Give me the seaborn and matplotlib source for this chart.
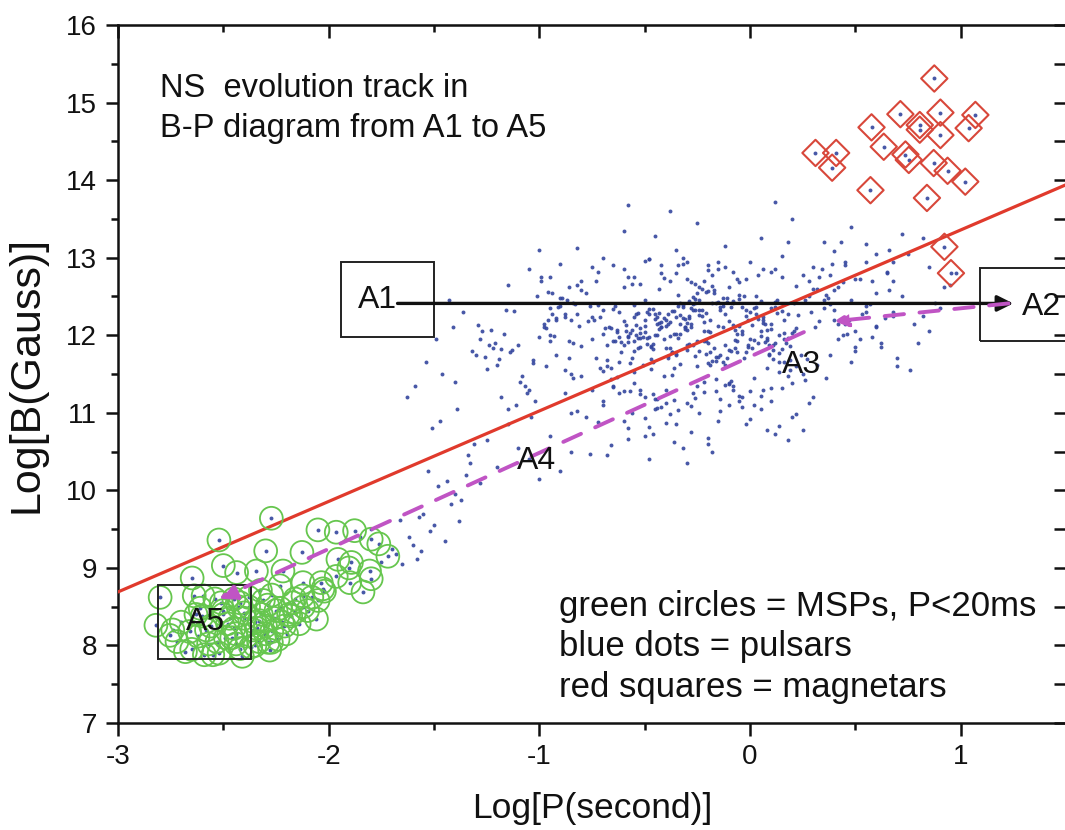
import numpy as np
import pandas as pd
import matplotlib
matplotlib.use('Agg')
import matplotlib.pyplot as plt
import seaborn as sns
from matplotlib.patches import Rectangle
from matplotlib.ticker import MultipleLocator

# ---------------- data ----------------
# magnetars (red diamonds)
mag_logP = [0.875, 0.714, 0.904, 1.07, 0.577, 0.806, 0.806, 1.038, 0.904, 0.635, 0.311,
            0.409, 0.738, 0.754, 0.39, 0.872, 0.938, 1.022, 0.572, 0.84, 0.923, 0.954]
mag_logB = [15.31, 14.85, 14.87, 14.84, 14.68, 14.71, 14.65, 14.67, 14.58, 14.43, 14.35,
            14.35, 14.33, 14.26, 14.16, 14.22, 14.12, 13.98, 13.87, 13.77, 13.14, 12.80]

# millisecond pulsars (green circles)
msp_logP = [-2.272, -2.521, -2.299, -2.50, -2.343, -2.648, -2.437, -2.80, -2.638, -2.596,
            -2.324, -2.232, -2.82, -2.754, -2.288, -2.051, -1.964, -1.877, -1.798, -1.762,
            -1.719, -2.127, -1.956, -1.892, -1.904, -2.217, -1.964, -1.90, -1.806, -1.798,
            -1.837, -2.122, -2.035, -2.027, -2.122, -2.161, -2.058, -2.272,
            -2.72, -2.65, -2.58, -2.52, -2.46, -2.4, -2.35, -2.3, -2.25, -2.2,
            -2.7, -2.62, -2.55, -2.48, -2.43, -2.37, -2.32, -2.27, -2.22, -2.17,
            -2.68, -2.6, -2.53, -2.45, -2.41, -2.34, -2.29, -2.24, -2.19, -2.14,
            -2.66, -2.57, -2.5, -2.44, -2.38, -2.33, -2.28, -2.23, -2.12, -2.08,
            -2.63, -2.56, -2.49, -2.42, -2.36, -2.31, -2.26, -2.21, -2.16, -2.1,
            -2.74, -2.59, -2.51, -2.47, -2.39, -2.33, -2.27, -2.18, -2.05, -2.02,
            -2.61, -2.54, -2.45, -2.4, -2.35, -2.3, -2.44, -2.38, -2.5, -2.42]
msp_logB = [9.64, 9.36, 9.22, 9.03, 8.96, 8.87, 8.94, 8.62, 8.64, 8.64,
            8.71, 8.77, 8.26, 8.13, 8.04, 9.49, 9.46, 9.48, 9.37, 9.31,
            9.15, 9.20, 9.11, 9.07, 9.00, 8.96, 8.89, 8.81, 8.96, 8.86,
            8.69, 8.81, 8.81, 8.73, 8.64, 8.43, 8.34, 8.04,
            8.05, 7.95, 8.2, 7.9, 8.1, 8.35, 8.0, 8.25, 8.45, 8.15,
            8.3, 8.12, 7.88, 8.28, 8.5, 7.98, 8.4, 8.18, 8.3, 8.55,
            7.92, 8.38, 8.05, 8.6, 7.86, 8.22, 8.52, 8.08, 8.4, 8.28,
            8.18, 8.02, 8.45, 8.15, 8.62, 8.32, 7.94, 8.48, 8.5, 8.62,
            8.4, 8.25, 8.1, 7.96, 8.2, 8.58, 8.35, 8.25, 8.6, 8.45,
            8.2, 7.88, 8.55, 8.35, 8.12, 8.05, 8.65, 8.38, 8.58, 8.7,
            8.48, 8.6, 8.22, 8.42, 8.3, 8.15, 8.02, 8.5, 8.4, 8.55]

# normal pulsars (blue dots)
psr_logP = [
    -0.52, -0.31, -0.12, 0.05, -0.64, -0.41, -0.22, 0.18, -0.05, -0.73,
    -0.28, -0.47, 0.11, -0.15, -0.58, -0.36, 0.24, -0.69, -0.09, -0.43,
    -0.19, 0.02, -0.55, -0.33, -0.77, 0.14, -0.26, -0.61, -0.02, -0.38,
    0.21, -0.49, -0.13, -0.71, -0.24, 0.08, -0.56, -0.35, -0.07, -0.66,
    -0.45, 0.27, -0.17, -0.6, -0.3, 0.12, -0.51, -0.04, -0.75, -0.21,
    -0.39, 0.06, -0.63, -0.27, -0.1, 0.19, -0.53, -0.34, -0.68, 0.01,
    -0.14, -0.46, 0.23, -0.57, -0.29, -0.8, 0.1, -0.37, -0.2, -0.5,
    0.16, -0.62, -0.06, -0.42, -0.25, -0.72, 0.04, -0.32, -0.54, -0.11,
    -0.67, 0.26, -0.4, -0.18, -0.59, 0.09, -0.23, -0.48, -0.01, -0.7,
    -0.33, 0.15, -0.08, -0.55, -0.44, 0.2, -0.16, -0.65, -0.27, 0.03,
    -0.35, -0.12, -0.48, 0.07, -0.26, -0.55, -0.04, -0.41, 0.15, -0.19,
    -0.3, -0.08, -0.52, 0.11, -0.23, -0.44, 0.03, -0.37, -0.15, -0.58,
    -0.27, 0.18, -0.46, -0.1, -0.33, -0.01, -0.5, -0.21, 0.09, -0.39,
    -0.06, -0.29, -0.56, 0.13, -0.17, -0.42, -0.03, -0.34, 0.05, -0.24,
    -0.49, -0.13, 0.16, -0.38, -0.2, -0.53, 0.0, -0.31, -0.09, -0.45,
    0.1, -0.25, -0.59, -0.14, -0.36, 0.06, -0.47, -0.18, -0.28, 0.19,
    -0.4, -0.07, -0.54, -0.22, 0.02, -0.32, -0.16, -0.43, 0.12, -0.26,
    -0.11, -0.51, -0.02, -0.35, 0.08, -0.19, -0.46, -0.05, -0.3, 0.14,
    -0.43, -0.21, -0.02, -0.62, -0.34, 0.09, -0.5, -0.13, -0.27, -0.7,
    0.17, -0.39, -0.08, -0.56, -0.24, 0.04, -0.46, -0.17, -0.65, -0.31,
    -0.04, -0.52, -0.2, 0.13, -0.37, -0.6, -0.11, -0.29, 0.21, -0.48,
    -0.15, -0.66, -0.33, 0.0, -0.44, -0.23, 0.11, -0.57, -0.09, -0.36,
    -0.71, -0.26, 0.07, -0.49, -0.18, -0.4, 0.16, -0.03, -0.53, -0.3,
    -0.12, -0.61, -0.38, 0.05, -0.22, -0.47, -0.06, -0.32, 0.19, -0.55,
    -0.25, 0.01, -0.42, -0.14, -0.68, -0.35, 0.1, -0.19, -0.5, -0.07,
    -0.58, -0.28, 0.14, -0.41, -0.1, -0.63, -0.2, 0.03, -0.45, -0.33,
    -0.16, -0.54, 0.08, -0.24, -0.74, -0.37, -0.05, -0.47, 0.22, -0.29,
    -0.64, -0.13, -0.39, 0.06, -0.52, -0.21, -0.01, -0.43, -0.31, 0.12,
    -0.88, -0.58, -0.27, 0.12, 0.45, -0.75, -0.42, -0.05, 0.3, 0.62,
    -0.95, -0.65, -0.35, 0.02, 0.38, -0.82, -0.5, -0.15, 0.22, 0.55,
    -0.7, -0.38, -0.08, 0.28, -0.92, -0.6, -0.22, 0.15, 0.5, -0.78,
    -0.45, -0.12, 0.25, 0.58, -0.85, -0.52, -0.18, 0.08, 0.42, -0.68,
    -0.32, 0.05, 0.35, -0.98, -0.62, -0.28, 0.18, 0.48, -0.72, -0.4,
    -0.02, 0.32, 0.66, -0.8, -0.48, -0.1, 0.22, -0.9, -0.55, -0.2,
    0.1, 0.4, -0.76, -0.44, -0.06, 0.26, 0.6, -0.86, -0.34, 0.0,
    0.36, -0.66, -0.3, 0.14, 0.52, -0.94, -0.57, -0.24, 0.2, -0.73,
    -0.41, -0.04, 0.33, 0.68, -0.84, -0.5, -0.16, 0.06, 0.44, -0.63,
    -0.26, 0.16, -0.96, -0.6, -0.36, 0.04, 0.29, -0.7, -0.46, -0.14,
    -0.95, -1.12, -0.84, -1.27, -1.03, -0.89, -1.18, -0.98, -1.22, -0.86,
    -1.07, -0.92, -1.3, -1.0, -0.83, -1.15, -0.97, -1.25, -0.88, -1.1,
    -0.94, -1.2, -0.81, -1.05, -1.28, -0.91, -1.14, -0.99, -0.85, -1.17,
    -1.02, -0.87, -1.24, -0.96, -1.09, -0.82, -1.19, -0.93, -1.29, -1.04,
    -0.9, -1.13, -0.8, -1.06, -1.23, -0.97, -1.16, -0.86, -1.01, -1.26,
    -0.92, -1.08, -0.84, -1.21, -0.99, -1.11, -0.88, -1.03, -0.95, -1.18,
    -0.55, -0.2, 0.1, -0.8, 0.45, -0.35, 0.25, -1.05, 0.6, -0.6,
    -0.05, 0.35, -0.9, -0.42, 0.72, 0.15, -0.25, -0.7, 0.5, -0.12,
    -1.15, 0.3, -0.48, 0.05, -0.82, 0.65, -0.3, 0.2, -0.65, 0.4,
    -0.15, -0.95, 0.55, -0.38, 0.0, -0.58, 0.82, -0.22, 0.12, -0.75,
    0.38, -0.45, -1.0, 0.28, -0.08, 0.68, -0.52, 0.18, -0.32, 0.48,
    -0.62, -0.35, -0.1, 0.15, -0.78, -0.45, -0.2, 0.05, -0.55, -0.28,
    0.3, -0.68, -0.4, -0.15, 0.1, -0.85, -0.5, -0.25, 0.22, -0.6,
    -0.32, -0.05, -0.72, -0.42, 0.18, -0.12, -0.58, -0.3, 0.0, -0.48,
    -0.82, -0.22, 0.08, -0.65, -0.38, 0.28, -0.18, -0.52, -0.02, -0.75,
    -0.44, 0.12, -0.26, -0.6, -0.08, -0.36, 0.2, -0.7, -0.16, -0.48,
    -0.3, 0.02, -0.56, -0.2, -0.88, -0.4, 0.25, -0.1, -0.66, -0.34,
    -0.5, -0.14, 0.14, -0.76, -0.28, -0.46, 0.06, -0.24, -0.58, -0.04,
    0.35, 0.52, 0.68, 0.42, 0.85, 0.31, 0.6, 0.47, 0.75, 0.38,
    0.92, 0.55, 0.33, 0.7, 0.45, 0.82, 0.62, 0.4, 0.98, 0.5,
    0.36, 0.66, 0.78, 0.44, 0.58, 0.88, 0.34, 0.72, 0.48, 0.64,
    0.4, 0.55, 0.8, 0.32, 0.68, 0.5, 0.9, 0.43, 0.6, 0.37,
    0.76, 0.46, 0.65, 0.53, 0.85, 0.39, 0.7, 0.57, 0.95, 0.42,
    -1.45, -1.58, -1.38, -1.65, -1.52, -1.42, -1.7, -1.48, -1.62, -1.35,
    -1.55, -1.4, -1.68, -1.5, -1.33, -1.6, -1.44, -1.75, -1.37, -1.57,
    -1.46, -1.32, -1.63, -1.41, -1.54, -1.36, -1.49, -1.31, -1.59, -1.43,
    -1.8, -1.51, -1.39, -1.66, -1.34, -1.47, -1.56, -1.85, -1.4, -1.53,
    -1.2, -1.1, -1.0, -0.95, -1.25, -1.05, -0.9, -1.15, -0.85, -1.28]
psr_logB = [
    11.85, 12.21, 11.62, 12.05, 12.38, 11.47, 11.93, 12.28, 12.52, 11.71,
    12.14, 11.56, 11.88, 12.43, 11.99, 12.31, 11.74, 12.09, 11.41, 12.6,
    11.79, 12.35, 11.52, 12.02, 12.18, 11.66, 12.47, 11.91, 12.25, 11.83,
    12.41, 11.97, 12.11, 11.58, 12.33, 11.94, 12.66, 11.76, 12.07, 11.44,
    12.27, 11.69, 12.55, 11.87, 12.16, 12.37, 11.61, 12.01, 12.24, 11.92,
    11.73, 12.19, 12.04, 12.49, 11.81, 11.55, 12.29, 11.96, 11.68, 12.13,
    12.36, 11.89, 12.26, 11.64, 12.44, 11.86, 12.08, 11.49, 12.57, 12.12,
    11.95, 12.3, 11.78, 12.17, 11.6, 12.39, 11.9, 12.22, 12.0, 11.7,
    12.1, 12.45, 11.84, 12.63, 12.06, 11.75, 12.32, 11.98, 12.2, 11.54,
    12.15, 11.82, 12.42, 11.92, 12.23, 12.03, 11.67, 12.34, 11.88, 12.5,
    12.02, 11.88, 12.27, 12.14, 11.73, 12.39, 12.06, 11.95, 12.31, 12.2,
    11.81, 12.44, 12.09, 11.69, 12.25, 12.0, 12.36, 11.78, 12.12, 11.91,
    12.33, 11.97, 11.66, 12.18, 12.41, 11.85, 12.04, 12.29, 11.76, 12.15,
    11.93, 12.22, 12.07, 12.46, 11.83, 12.11, 11.71, 12.38, 11.99, 12.26,
    11.89, 12.48, 12.03, 12.17, 11.64, 11.96, 12.3, 12.08, 11.8, 12.21,
    12.35, 11.92, 12.13, 11.75, 12.01, 12.24, 11.86, 12.42, 12.1, 11.68,
    12.19, 11.84, 12.28, 12.05, 11.94, 12.37, 11.72, 12.16, 11.9, 12.32,
    12.43, 11.98, 11.79, 12.23, 12.07, 11.62, 12.34, 12.12, 11.87, 12.0,
    12.08, 11.76, 12.33, 11.98, 12.52, 11.87, 12.19, 11.65, 12.4, 12.02,
    11.9, 12.27, 12.13, 11.7, 12.45, 12.21, 11.82, 12.58, 11.93, 12.11,
    12.37, 11.97, 12.05, 12.29, 11.78, 12.18, 12.48, 11.89, 12.06, 12.34,
    11.72, 12.09, 12.26, 11.95, 12.14, 12.6, 11.81, 12.03, 12.36, 11.58,
    12.23, 12.42, 11.91, 12.3, 11.67, 12.12, 12.2, 12.5, 11.84, 12.07,
    12.28, 11.79, 11.99, 12.44, 12.17, 11.69, 12.01, 12.39, 11.86, 12.24,
    12.55, 11.83, 12.1, 12.32, 11.88, 11.74, 12.15, 12.04, 12.46, 11.94,
    11.98, 12.35, 11.77, 12.22, 12.62, 12.07, 11.9, 12.27, 12.0, 11.63,
    12.41, 12.13, 11.96, 11.8, 12.19, 12.31, 12.47, 11.85, 12.09, 12.25,
    11.92, 12.38, 11.71, 12.16, 12.03, 12.56, 11.87, 12.29, 12.11, 12.43,
    11.55, 12.75, 11.25, 12.85, 12.15, 11.95, 12.9, 11.15, 12.6, 11.9,
    12.35, 11.35, 12.8, 11.45, 12.4, 12.65, 11.2, 12.95, 11.6, 12.3,
    11.1, 12.7, 11.3, 12.5, 11.75, 12.85, 11.4, 12.75, 11.85, 12.55,
    11.05, 12.88, 11.5, 12.7, 12.2, 11.3, 12.78, 11.58, 12.62, 11.6,
    12.92, 11.22, 12.35, 12.1, 11.65, 12.68, 11.48, 12.45, 12.82, 11.12,
    12.72, 11.62, 12.58, 11.48, 12.98, 11.38, 12.64, 12.48, 11.8, 12.84,
    11.32, 12.2, 12.38, 11.18, 12.72, 11.42, 12.1, 11.7, 12.9, 11.28,
    12.52, 11.58, 12.94, 11.52, 11.95, 12.28, 11.28, 12.62, 11.38, 12.7,
    12.74, 11.08, 12.18, 12.25, 11.9, 12.96, 11.44, 12.86, 12.0, 11.46,
    12.66, 11.66, 12.56, 12.62, 11.16, 12.78, 12.3, 12.32, 11.24, 11.02,
    11.92, 12.31, 11.45, 12.05, 11.68, 12.48, 11.2, 12.15, 11.83, 12.62,
    11.35, 12.22, 11.74, 11.98, 12.4, 11.05, 12.09, 11.56, 12.28, 11.88,
    12.55, 11.62, 12.12, 11.3, 11.95, 12.36, 11.78, 12.7, 11.5, 12.02,
    11.15, 12.45, 11.87, 12.19, 11.4, 12.27, 11.69, 11.99, 12.13, 10.95,
    12.38, 11.81, 12.58, 11.25, 12.07, 11.6, 12.33, 11.93, 12.5, 11.72,
    12.2, 11.47, 12.42, 11.9, 12.75, 11.1, 12.24, 11.64, 12.0, 11.82,
    12.75, 12.9, 12.82, 12.7, 12.95, 13.1, 12.78, 12.85, 13.05, 13.35,
    12.68, 13.2, 12.92, 12.8, 13.3, 13.02, 13.45, 13.0, 12.72, 13.15,
    12.65, 12.88, 12.98, 13.25, 13.12, 12.8, 12.72, 13.5, 12.9, 13.08,
    12.85, 12.75, 13.18, 13.6, 12.95, 13.68, 13.25, 12.7, 13.72, 12.88,
    12.78, 13.28, 13.1, 12.7, 12.82, 12.95, 12.66, 13.2, 13.0, 13.4,
    11.25, 10.85, 11.1, 11.32, 10.95, 11.18, 10.6, 11.05, 11.38, 10.75,
    11.2, 10.45, 11.3, 10.9, 11.15, 11.0, 10.7, 11.35, 10.98, 11.28,
    10.55, 11.22, 10.88, 11.08, 10.65, 11.36, 10.8, 11.12, 10.92, 10.4,
    11.02, 11.27, 10.78, 11.33, 10.98, 11.12, 10.5, 11.24, 10.85, 11.3,
    11.06, 10.72, 11.19, 10.9, 11.34, 10.62, 10.95, 11.15, 11.28, 10.82,
    10.35, 11.1, 11.0, 10.68, 11.25, 10.87, 10.78, 11.37, 10.58, 11.04,
    10.93, 11.18, 10.83, 10.47, 11.09, 10.72, 11.3, 11.0, 10.66, 11.2,
    12.45, 12.72, 12.3, 11.95, 12.88, 12.1, 12.55, 12.2, 13.05, 11.75,
    12.62, 12.38, 12.75, 11.6, 12.9, 12.25, 11.85, 12.58, 12.8, 12.05,
    11.45, 13.1, 12.15, 12.68, 11.98, 12.42, 12.85, 12.5, 11.65, 12.22,
    12.33, 12.95, 11.9, 12.6, 12.7, 11.8, 12.35, 13.2, 12.12, 12.48,
    11.55, 12.02, 12.82, 12.28, 12.05, 12.92, 11.7, 12.4, 12.65, 12.15,
    9.35, 9.12, 9.6, 9.05, 9.48, 9.82, 9.25, 10.05, 9.4, 10.2,
    9.7, 9.95, 9.18, 9.55, 10.35, 9.3, 10.12, 9.08, 9.88, 9.65,
    11.5, 11.8, 11.2, 12.1, 11.65, 12.3, 11.95, 10.6, 11.35, 12.45,
    9.5, 10.8, 11.05, 9.62, 10.45, 10.9, 9.22, 9.4, 11.4, 10.25,
    10.3, 10.55, 10.15, 10.7, 10.65, 10.4, 10.25, 10.85, 10.5, 10.1]

# dividing line (red)
line_logP = [-3.0, 1.5]
line_logB = [8.69, 13.94]

# evolution track
track_A1_A2 = [(-1.673, 12.41), (1.25, 12.41)]
track_A2_A3 = [(1.227, 12.41), (0.40, 12.18)]
track_A3_A5 = [(0.256, 12.04), (-2.52, 8.60)]

labels = ['A1', 'A2', 'A3', 'A4', 'A5']
label_logP = [-1.768, 1.384, 0.246, -1.014, -2.583]
label_logB = [12.46, 12.37, 11.61, 10.38, 8.30]

boxes = {'A1': (-1.94, 11.98, 0.44, 0.97),
         'A2': (1.09, 11.92, 0.60, 0.95),
         'A5': (-2.81, 7.83, 0.44, 0.95)}

# ---------------- plot ----------------
sns.set_style('ticks')
plt.rcParams['font.family'] = ['Liberation Sans', 'DejaVu Sans']
plt.rcParams['axes.unicode_minus'] = False
for k in ['text.color', 'axes.labelcolor', 'xtick.color', 'ytick.color', 'axes.edgecolor']:
    plt.rcParams[k] = '#111111'

fig = plt.figure(figsize=(10.65, 8.30), dpi=100)
ax = fig.add_axes([0.1108, 0.1289, 0.8901, 0.8410])

psr = pd.DataFrame({'logP': psr_logP + mag_logP + msp_logP,
                    'logB': psr_logB + mag_logB + msp_logB})
sns.scatterplot(data=psr, x='logP', y='logB', s=8, color='#34469e',
                linewidth=0, alpha=0.9, ax=ax, zorder=2)

sns.lineplot(x=line_logP, y=line_logB, color='#e03a2c', lw=2.3, ax=ax, zorder=3)

mag = pd.DataFrame({'logP': mag_logP, 'logB': mag_logB})
sns.scatterplot(data=mag, x='logP', y='logB', marker='D', s=180, ax=ax, zorder=4)
ax.collections[-1].set_facecolor('none')
ax.collections[-1].set_edgecolor('#d8473a')
ax.collections[-1].set_linewidth(1.5)

msp = pd.DataFrame({'logP': msp_logP, 'logB': msp_logB})
sns.scatterplot(data=msp, x='logP', y='logB', marker='o', s=270, ax=ax, zorder=4)
ax.collections[-1].set_facecolor('none')
ax.collections[-1].set_edgecolor('#66c64e')
ax.collections[-1].set_linewidth(1.3)

# boxes
for name, (x0, y0, w, h) in boxes.items():
    ax.add_patch(Rectangle((x0, y0), w, h, fill=False, ec='#222222', lw=1.4,
                           zorder=5, clip_on=True))

# black arrow A1 -> A2
ax.annotate('', xy=track_A1_A2[1], xytext=track_A1_A2[0],
            arrowprops=dict(arrowstyle='-|>', color='#111111', lw=2.4,
                            mutation_scale=24, shrinkA=0, shrinkB=0), zorder=6)
# purple dashed arrows
purple = '#c054c4'
ax.annotate('', xy=track_A2_A3[1], xytext=track_A2_A3[0],
            arrowprops=dict(arrowstyle='-|>', color=purple, lw=2.8, ls=(0, (5, 4)),
                            mutation_scale=20, shrinkA=0, shrinkB=0), zorder=6)
ax.annotate('', xy=track_A3_A5[1], xytext=track_A3_A5[0],
            arrowprops=dict(arrowstyle='-|>', color=purple, lw=2.8, ls=(0, (5, 4)),
                            mutation_scale=26, shrinkA=0, shrinkB=0), zorder=6)

for t, xx, yy in zip(labels, label_logP, label_logB):
    ax.text(xx, yy, t, fontsize=23, ha='center', va='center', color='#111111', zorder=7)

ax.text(-2.80, 15.07, 'NS  evolution track in', fontsize=23.5, ha='left', va='baseline')
ax.text(-2.80, 14.56, 'B-P diagram from A1 to A5', fontsize=23.5, ha='left', va='baseline')

ax.text(-0.905, 8.38, 'green circles = MSPs, P<20ms', fontsize=25, ha='left', va='baseline')
ax.text(-0.905, 7.86, 'blue dots = pulsars', fontsize=25, ha='left', va='baseline')
ax.text(-0.905, 7.34, 'red squares = magnetars', fontsize=25, ha='left', va='baseline')

ax.set_xlim(-3, 1.5)
ax.set_ylim(7, 16)
ax.xaxis.set_major_locator(MultipleLocator(1))
ax.xaxis.set_minor_locator(MultipleLocator(0.5))
ax.yaxis.set_major_locator(MultipleLocator(1))
ax.yaxis.set_minor_locator(MultipleLocator(0.5))
ax.tick_params(which='major', direction='out', length=9, width=1.8, labelsize=20,
               pad=6, top=False, right=False)
ax.tick_params(which='minor', direction='out', length=5, width=1.8,
               top=False, right=False)
for sp in ax.spines.values():
    sp.set_linewidth(1.8)
    sp.set_visible(True)

secx = ax.secondary_xaxis('top')
secx.xaxis.set_major_locator(MultipleLocator(1))
secx.xaxis.set_minor_locator(MultipleLocator(0.5))
secx.tick_params(which='major', direction='in', length=9, width=1.8, labeltop=False)
secx.tick_params(which='minor', direction='in', length=5, width=1.8)
secy = ax.secondary_yaxis('right')
secy.yaxis.set_major_locator(MultipleLocator(1))
secy.yaxis.set_minor_locator(MultipleLocator(0.5))
secy.tick_params(which='major', direction='in', length=9, width=1.8, labelright=False)
secy.tick_params(which='minor', direction='in', length=9, width=1.8)

ax.set_xlabel('Log[P(second)]', fontsize=25.5, labelpad=16)
ax.set_ylabel('Log[B(Gauss)]', fontsize=31, labelpad=14)

fig.savefig('out.png', dpi=100)
